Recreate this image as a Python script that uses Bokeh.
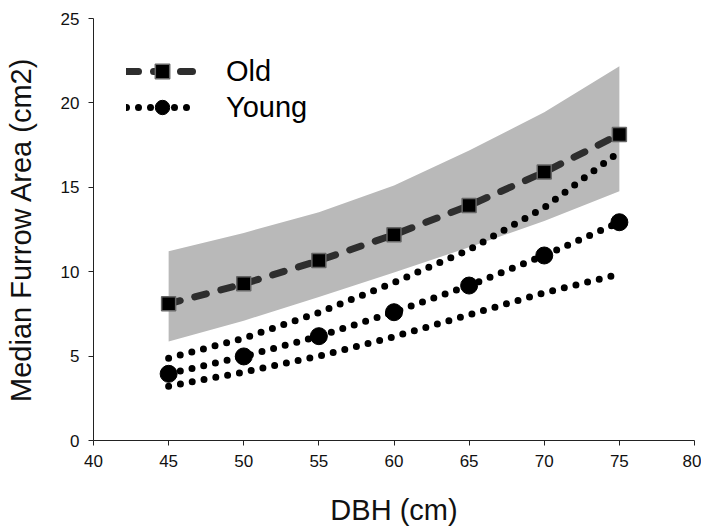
from bokeh.plotting import figure
from bokeh.models import Range1d, FixedTicker, Legend, LegendItem
from bokeh.embed import file_html
from bokeh.resources import INLINE

# ---- data ----
dbh = [45, 50, 55, 60, 65, 70, 75]
old_median = [8.1, 9.28, 10.66, 12.19, 13.92, 15.9, 18.13]
old_upper = [11.21, 12.3, 13.52, 15.1, 17.18, 19.45, 22.17]
old_lower = [5.87, 7.1, 8.5, 9.95, 11.45, 13.0, 14.77]
young_median = [3.95, 4.98, 6.18, 7.6, 9.18, 10.96, 12.93]
young_upper = [4.88, 6.06, 7.58, 9.36, 11.3, 13.8, 17.1]
young_lower = [3.22, 4.05, 5.0, 6.15, 7.45, 8.75, 9.85]
x_ticks = [40, 45, 50, 55, 60, 65, 70, 75, 80]
y_ticks = [0, 5, 10, 15, 20, 25]

FONT = "Liberation Sans"

p = figure(width=701, height=531, output_backend="svg", toolbar_location=None,
           x_range=Range1d(40, 80), y_range=Range1d(0, 25),
           min_border_left=93, min_border_right=7, min_border_top=18, min_border_bottom=91)
p.outline_line_color = None
p.xgrid.visible = False
p.ygrid.visible = False

# confidence band for Old
p.varea(x=dbh, y1=old_lower, y2=old_upper, fill_color="#b9b9b9", fill_alpha=1.0)

# Young bounds (dotted)
p.line(dbh, young_upper, line_color="black", line_width=7, line_dash="0 12", line_cap="round")
p.line(dbh, young_lower, line_color="black", line_width=7, line_dash="0 12", line_cap="round")
young_line = p.line(dbh, young_median, line_color="black", line_width=7, line_dash="0 12", line_cap="round")
young_pts = p.scatter(dbh, young_median, marker="circle", size=17, fill_color="black", line_color="black")

old_line = p.line(dbh, old_median, line_color="#2e2e2e", line_width=7, line_dash="12 15", line_cap="round")
old_pts = p.scatter(dbh, old_median, marker="square", size=14, fill_color="black", line_color="#666666", line_width=1.5)

legend = Legend(items=[LegendItem(label="Old", renderers=[old_line, old_pts]),
                       LegendItem(label="Young", renderers=[young_line, young_pts])],
                location=(33, 315), orientation="vertical")
legend.background_fill_alpha = 0
legend.border_line_color = None
legend.padding = 0
legend.margin = 0
legend.spacing = 0
legend.glyph_width = 72
legend.glyph_height = 36
legend.label_height = 36
legend.label_standoff = 28
legend.label_text_font = FONT
legend.label_text_font_size = "29px"
legend.label_text_color = "black"
legend.label_text_baseline = "middle"
p.add_layout(legend, "center")

for ax, ticks in ((p.xaxis[0], x_ticks), (p.yaxis[0], y_ticks)):
    ax.ticker = FixedTicker(ticks=ticks)
    ax.minor_tick_line_color = None
    ax.major_tick_in = 0
    ax.major_tick_out = 5
    ax.axis_line_color = "#222222"
    ax.major_tick_line_color = "#222222"
    ax.major_label_text_font = FONT
    ax.major_label_text_font_size = "17px"
    ax.major_label_text_color = "#111111"
    ax.major_label_standoff = 9
    ax.axis_label_text_font = FONT
    ax.axis_label_text_font_size = "29px"
    ax.axis_label_text_font_style = "normal"
    ax.axis_label_text_color = "#111111"

p.xaxis.axis_label = "DBH (cm)"
p.yaxis.axis_label = "Median Furrow Area (cm2)"
p.xaxis.axis_label_standoff = 24
p.yaxis.axis_label_standoff = 21

open("out.html", "w").write(file_html(p, INLINE))
